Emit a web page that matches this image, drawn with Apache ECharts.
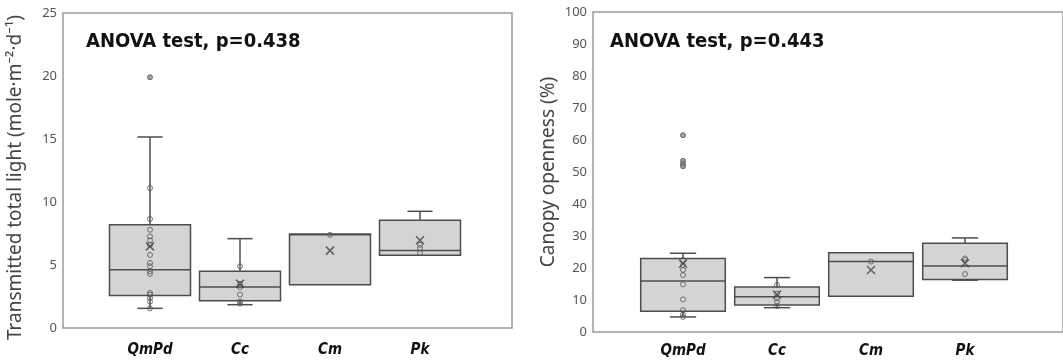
<!DOCTYPE html>
<html>
<head>
<meta charset="utf-8">
<script src="https://cdn.jsdelivr.net/npm/echarts@6/dist/echarts.min.js"></script>
<style>
  html, body { margin: 0; padding: 0; background: #fff; }
  #chart { width: 1063px; height: 360px; }
</style>
</head>
<body>
<div id="chart"></div>
<script>
// categories shared by both panels
const categories = ['QmPd', 'Cc', 'Cm', 'Pk'];

// left panel: transmitted total light, [min, q1, median, q3, max]
const lightBox = [
  [1.56, 2.57, 4.63, 8.2, 15.16],
  [1.85, 2.17, 3.25, 4.5, 7.09],
  [3.44, 3.44, 7.4, 7.46, 7.46],
  [5.77, 5.77, 6.16, 8.55, 9.26]
];
const lightMean = [6.48, 3.52, 6.14, 6.96];
const lightPoints = [
  [11.1, 8.65, 7.8, 7.27, 6.96, 6.6, 5.8, 5.16, 4.9, 4.5, 4.3, 2.78, 2.65, 2.38, 2.1, 1.56],
  [4.9, 3.5, 3.25, 2.65, 2.1, 1.93],
  [7.4],
  [6.6, 6.35, 5.95]
];
const lightOutliers = [[19.9], [], [], []];

// right panel: canopy openness
const canopyBox = [
  [4.7, 6.5, 15.9, 23.0, 24.6],
  [7.6, 8.4, 11.0, 14.1, 17.0],
  [11.2, 11.2, 22.0, 24.8, 24.8],
  [16.2, 16.4, 20.6, 27.7, 29.4]
];
const canopyMean = [21.3, 11.7, 19.4, 21.5];
const canopyPoints = [
  [22.5, 20.9, 19.4, 17.8, 14.9, 10.2, 6.8, 5.5, 4.7],
  [14.7, 12.0, 10.5, 9.4, 8.1],
  [22.0],
  [23.0, 22.5, 18.1]
];
const canopyOutliers = [[61.5, 53.5, 52.5, 51.8], [], [], []];

const titles = ['ANOVA test, p=0.438', 'ANOVA test, p=0.443'];
const yNames = ['Transmitted total light (mole·m⁻²·d⁻¹)', 'Canopy openness (%)'];

const LINE = '#4d4d4d';
const NARROW = "'DejaVu Sans Condensed', Roboto, sans-serif";

function renderBox(params, api) {
  const i = api.value(0);
  const bw = api.size([1, 0])[0];
  const half = bw * 0.45;
  const cap = bw * 0.14;
  const x = api.coord([i, api.value(1)])[0];
  const yMin = api.coord([i, api.value(1)])[1];
  const yQ1 = api.coord([i, api.value(2)])[1];
  const yMed = api.coord([i, api.value(3)])[1];
  const yQ3 = api.coord([i, api.value(4)])[1];
  const yMax = api.coord([i, api.value(5)])[1];
  const st = { stroke: LINE, lineWidth: 1.5 };
  const kids = [
    { type: 'rect', shape: { x: x - half, y: yQ3, width: half * 2, height: yQ1 - yQ3 },
      style: { fill: '#d4d4d4', stroke: LINE, lineWidth: 1.5 } },
    { type: 'line', shape: { x1: x - half, y1: yMed, x2: x + half, y2: yMed }, style: st }
  ];
  if (yMax < yQ3 - 0.5) {
    kids.push({ type: 'line', shape: { x1: x, y1: yQ3, x2: x, y2: yMax }, style: st });
    kids.push({ type: 'line', shape: { x1: x - cap, y1: yMax, x2: x + cap, y2: yMax }, style: st });
  }
  if (yMin > yQ1 + 0.5) {
    kids.push({ type: 'line', shape: { x1: x, y1: yQ1, x2: x, y2: yMin }, style: st });
    kids.push({ type: 'line', shape: { x1: x - cap, y1: yMin, x2: x + cap, y2: yMin }, style: st });
  }
  return { type: 'group', children: kids };
}

function flat(lists) {
  return lists.flatMap((arr, i) => arr.map(v => [i, v]));
}

// frame grids (border + y labels) and data grids (boxes, category labels)
const frames = [
  { left: 63, top: 13, width: 449, height: 315 },
  { left: 593, top: 12, width: 480, height: 320 }
];
const dataGrids = [
  { left: 105, top: 13, width: 360, height: 315 },
  { left: 636, top: 12, width: 376, height: 320 }
];
const ranges = [[0, 25, 5], [0, 100, 10]];
const boxes = [lightBox, canopyBox];
const means = [lightMean, canopyMean];
const points = [lightPoints, canopyPoints];
const outliers = [lightOutliers, canopyOutliers];
const nameGaps = [38, 35];

const grid = [], xAxis = [], yAxis = [], series = [], title = [];
for (let p = 0; p < 2; p++) {
  const [mn, mx, step] = ranges[p];
  grid.push(Object.assign({ show: true, borderColor: '#9a9a9a', borderWidth: 1.5, backgroundColor: 'transparent' }, frames[p]));
  grid.push(Object.assign({ show: false }, dataGrids[p]));
  const gf = p * 2, gd = p * 2 + 1;
  xAxis.push({ gridIndex: gf, type: 'value', show: false, min: 0, max: 1 });
  xAxis.push({
    gridIndex: gd, type: 'category', data: categories,
    axisLine: { show: false }, axisTick: { show: false },
    axisLabel: { margin: p === 0 ? 15 : 12, color: '#111', fontFamily: NARROW, fontWeight: 'bold', fontStyle: 'italic', fontSize: 15 }
  });
  yAxis.push({
    gridIndex: gf, type: 'value', min: mn, max: mx, interval: step,
    name: yNames[p], nameLocation: 'middle', nameGap: nameGaps[p],
    nameTextStyle: { fontFamily: 'Noto Sans', fontSize: 19, color: '#444', padding: p === 0 ? [0, 14, 0, 0] : 0 },
    axisLine: { show: false }, axisTick: { show: false }, splitLine: { show: false },
    axisLabel: { margin: 6, color: '#555', fontFamily: 'Noto Sans', fontSize: 13 }
  });
  yAxis.push({ gridIndex: gd, type: 'value', min: mn, max: mx, show: false, splitLine: { show: false } });
  const ax = p * 2 + 1;
  series.push({
    type: 'custom', xAxisIndex: ax, yAxisIndex: ax,
    renderItem: renderBox,
    encode: { x: 0, y: [1, 2, 3, 4, 5] },
    data: boxes[p].map((b, i) => [i, ...b]), z: 2
  });
  series.push({
    type: 'scatter', xAxisIndex: ax, yAxisIndex: ax, symbol: 'circle', symbolSize: 5,
    itemStyle: { color: 'rgba(0,0,0,0)', borderColor: '#555', borderWidth: 1 },
    data: flat(points[p]), z: 3
  });
  series.push({
    type: 'scatter', xAxisIndex: ax, yAxisIndex: ax, symbol: 'circle', symbolSize: 5,
    itemStyle: { color: '#8a8a8a', borderColor: '#555', borderWidth: 1 },
    data: flat(outliers[p]), z: 3
  });
  series.push({
    type: 'scatter', xAxisIndex: ax, yAxisIndex: ax,
    symbol: 'path://M0,0L10,10M10,0L0,10', symbolSize: 8,
    itemStyle: { color: 'rgba(0,0,0,0)', borderColor: '#444', borderWidth: 1.5 },
    data: means[p].map((v, i) => [i, v]), z: 4
  });
  title.push({
    text: titles[p], left: p === 0 ? 86 : 610, top: 32, padding: 0,
    textStyle: { fontFamily: NARROW, fontWeight: 'bold', fontSize: 20, color: '#111' }
  });
}

const chart = echarts.init(document.getElementById('chart'), null, { renderer: 'canvas' });
chart.setOption({ animation: false, title, grid, xAxis, yAxis, series });
</script>
</body>
</html>
